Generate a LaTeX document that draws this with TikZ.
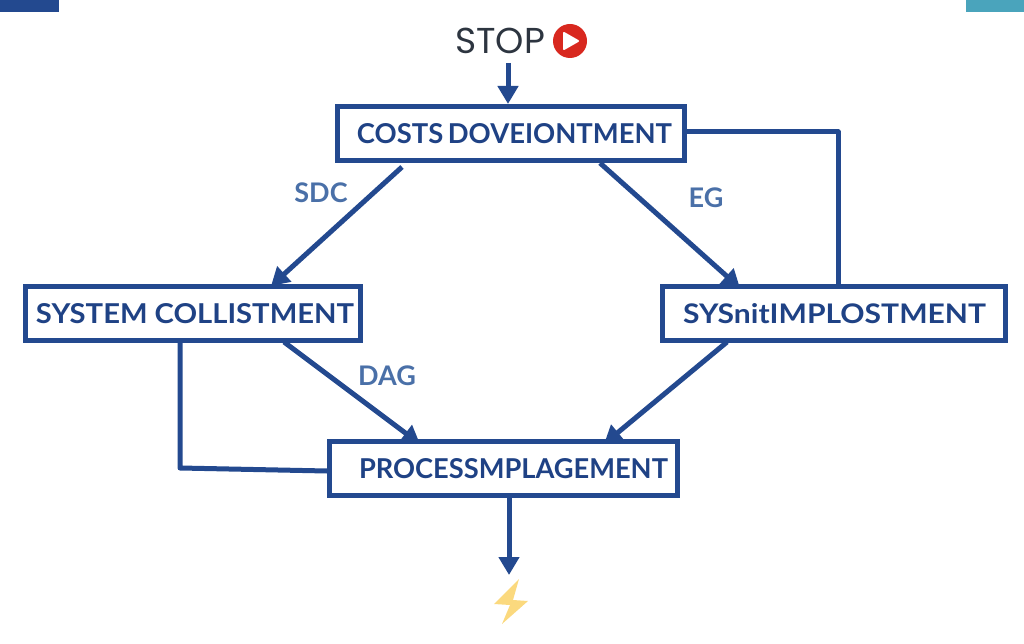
\documentclass[tikz,border=0pt]{standalone}
\usepackage{graphicx}
\usepackage{fontspec}
\setmainfont{Lato}
\newfontfamily\stopfont{Poppins}
\usetikzlibrary{arrows.meta}

\definecolor{flowblue}{HTML}{23498F}
\definecolor{boxtextblue}{HTML}{1F4285}
\definecolor{tagblue}{HTML}{4A70A8}
\definecolor{stopgray}{HTML}{2D3540}
\definecolor{playred}{HTML}{D8281F}
\definecolor{boltyellow}{HTML}{FBD97E}
\definecolor{cornerteal}{HTML}{4AA4BC}

\newcommand{\boxtext}[2]{\resizebox{#1}{20pt}{#2}}

\tikzset{
    flowbox/.style={draw=flowblue, line width=5pt, fill=white, inner sep=0pt,
        minimum height=54pt, text=boxtextblue, font=\fontsize{25}{25}\selectfont\bfseries},
    flowline/.style={draw=flowblue, line width=5pt, line join=round},
    tag/.style={text=tagblue, font=\fontsize{27}{27}\selectfont\bfseries}
}

\begin{document}
\begin{tikzpicture}[x=1pt, y=-1pt, >={Triangle[length=18pt,width=20pt]}]
    \useasboundingbox (0,0) rectangle (1024,644);

    % Corner bars
    \fill[flowblue] (0,0) rectangle (59,12);
    \fill[cornerteal] (966,0) rectangle (1024,12);

    % Start label with play icon
    \node[text=stopgray, font=\stopfont\fontsize{36}{36}\selectfont] (stop) at (500,41) {STOP};
    \fill[playred] (570,41) circle (17);
    \filldraw[white, line width=2pt, line join=round] (564,33) -- (578,41) -- (564,49) -- cycle;

    % Boxes
    \node[flowbox, minimum width=347pt] (costs) at (511,133.5) {\hspace{7pt}\boxtext{315pt}{COSTS\,DOVEIONTMENT}};
    \node[flowbox, minimum width=335pt] (collist) at (193,313.5) {\hspace{4pt}\boxtext{318pt}{SYSTEM COLLISTMENT}};
    \node[flowbox, minimum width=343pt] (implo) at (834,313.5) {\hspace{1pt}\boxtext{303pt}{SYSnitIMPLOSTMENT}};
    \node[flowbox, minimum width=348pt] (process) at (503.5,468.5) {\hspace{20pt}\boxtext{309pt}{PROCESSMPLAGEMENT}};

    % Free ends of the connectors
    \coordinate (stopend) at (508,63);
    \coordinate (boltend) at (509,575);

    % Connectors
    \draw[flowline, ->] (stopend) -- (stopend |- costs.north);
    \draw[flowline, ->] (402,167) -- (271,286);
    \draw[flowline, ->] (600,163) -- (740,288);
    \draw[flowline] (costs.east |- 0,132) -- (838,132) -- (838,286);
    \draw[flowline, ->] (284,342) -- (420,444);
    \draw[flowline] (180,342) -- (180,468) -- (process.west |- 0,471);
    \draw[flowline, ->] (727,342) -- (604,444);
    \draw[flowline, ->] (boltend |- process.south) -- (boltend);

    % Connector labels
    \node[tag] (sdc) at (321,193) {SDC};
    \node[tag] (eg) at (706,198) {EG};
    \node[tag] (dag) at (387,376) {DAG};

    % Bolt
    \fill[boltyellow] (519,579) -- (494,604) -- (510,605) -- (502,624) -- (528,601) -- (513,600) -- cycle;
\end{tikzpicture}
\end{document}
